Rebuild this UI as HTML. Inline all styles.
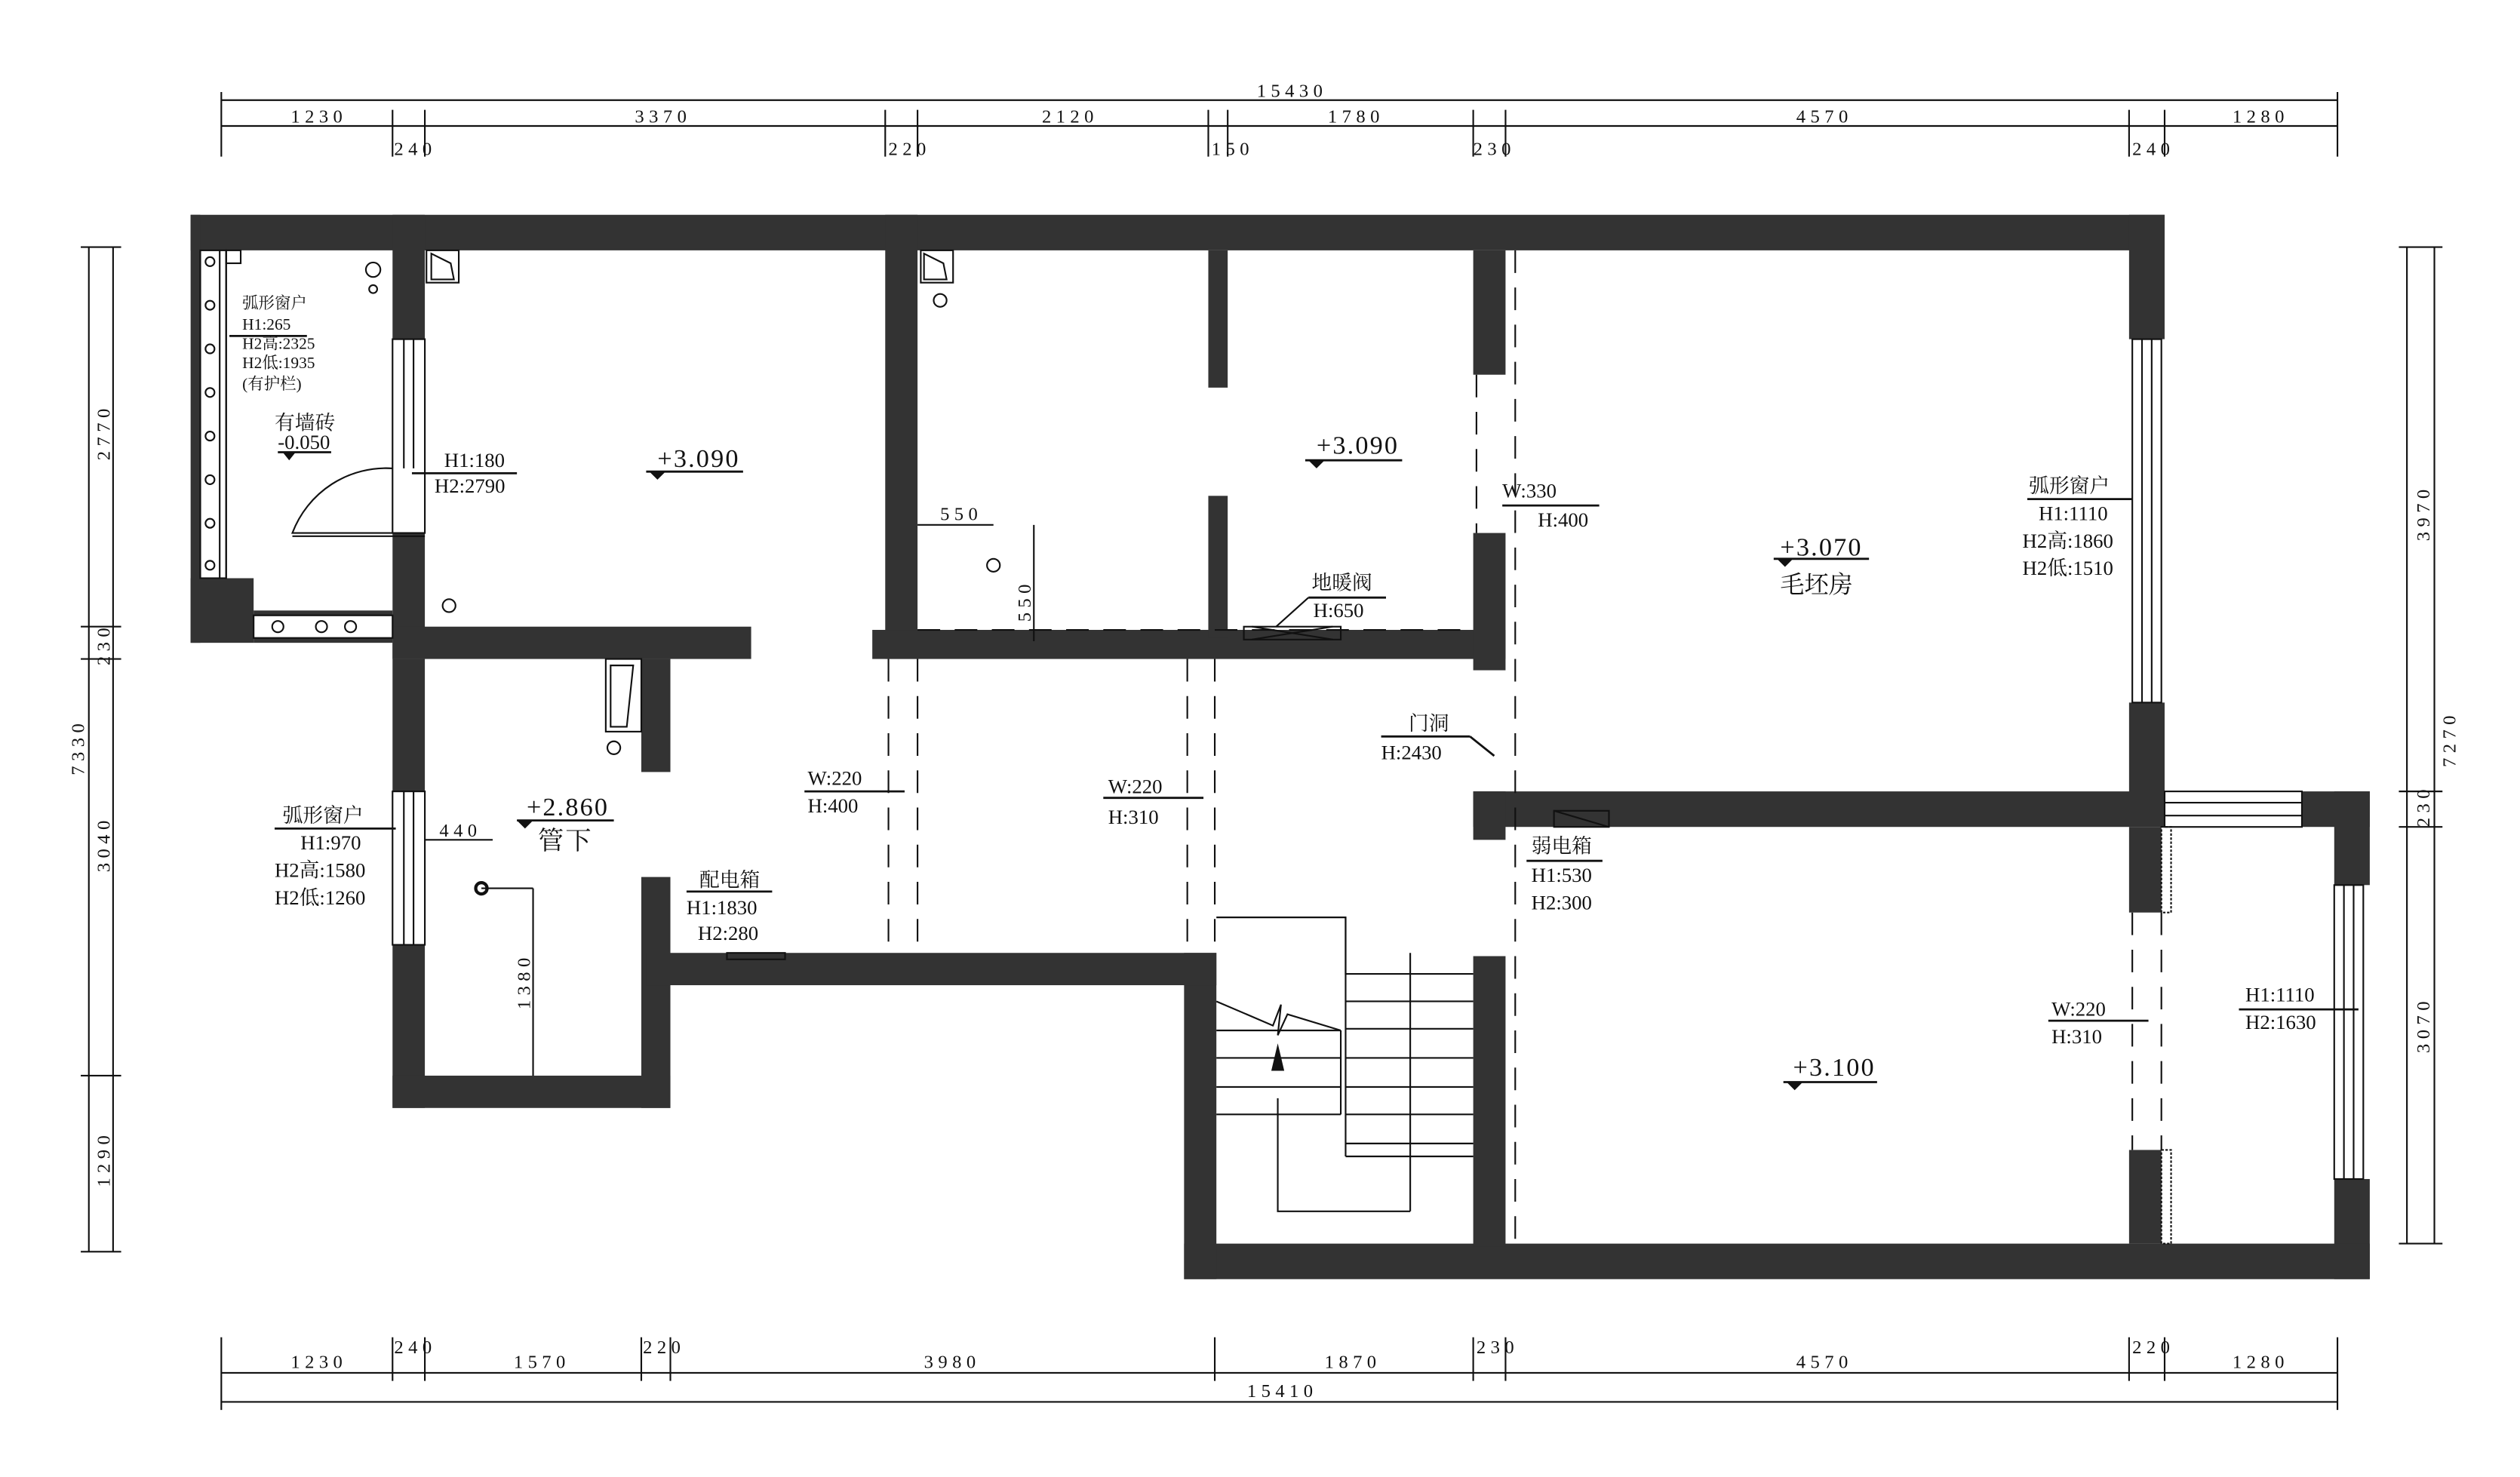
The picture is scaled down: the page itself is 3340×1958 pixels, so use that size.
<!DOCTYPE html>
<html><head><meta charset="utf-8"><style>
html,body{margin:0;padding:0;background:#fff;}
svg{display:block;}
text{font-family:"Liberation Serif","Noto Serif CJK SC","Noto Sans CJK SC",serif;fill:#111;}
.t{font-size:12.5px;}
.s{font-size:10px;}
.d{font-size:11.5px;letter-spacing:3px;}
.e{font-size:16px;letter-spacing:1px;}
</style></head><body>
<svg width="3340" height="1958" viewBox="0 0 1560 914.5" preserveAspectRatio="none" xmlns="http://www.w3.org/2000/svg">
<rect width="1560" height="914.5" fill="#fff"/>
<g fill="#333">
<rect x="118" y="133" width="1222" height="22"/>
<rect x="118" y="133" width="6" height="265"/>
<rect x="118" y="358" width="39" height="40"/>
<rect x="157" y="378" width="86" height="3"/>
<rect x="157" y="395" width="86" height="3"/>
<rect x="243" y="133" width="20" height="77"/>
<rect x="243" y="330" width="20" height="78"/>
<rect x="243" y="408" width="20" height="82"/>
<rect x="243" y="585" width="20" height="101"/>
<rect x="243" y="666" width="172" height="20"/>
<rect x="397" y="543" width="18" height="143"/>
<rect x="243" y="388" width="222" height="20"/>
<rect x="397" y="408" width="18" height="70"/>
<rect x="548" y="133" width="20" height="275"/>
<rect x="540" y="390" width="392" height="18"/>
<rect x="748" y="155" width="12" height="85"/>
<rect x="748" y="307" width="12" height="88"/>
<rect x="912" y="155" width="20" height="77"/>
<rect x="912" y="330" width="20" height="85"/>
<rect x="1318" y="133" width="22" height="77"/>
<rect x="1318" y="435" width="22" height="65"/>
<rect x="912" y="490" width="428" height="22"/>
<rect x="912" y="490" width="20" height="30"/>
<rect x="1425" y="490" width="42" height="22"/>
<rect x="1445" y="490" width="22" height="58"/>
<rect x="1445" y="730" width="22" height="62"/>
<rect x="1318" y="512" width="20" height="53"/>
<rect x="1318" y="712" width="20" height="58"/>
<rect x="733" y="770" width="734" height="22"/>
<rect x="912" y="592" width="20" height="180"/>
<rect x="733" y="590" width="20" height="202"/>
<rect x="400" y="590" width="353" height="20"/>
</g>
<g fill="none" stroke="#111" stroke-width="1">
<rect x="124" y="155" width="16" height="203"/>
<line x1="136" y1="155" x2="136" y2="358"/>
<line x1="140" y1="155" x2="140" y2="358"/>
<circle cx="130" cy="162" r="2.8"/><circle cx="130" cy="189" r="2.8"/><circle cx="130" cy="216" r="2.8"/><circle cx="130" cy="243" r="2.8"/><circle cx="130" cy="270" r="2.8"/><circle cx="130" cy="297" r="2.8"/><circle cx="130" cy="324" r="2.8"/><circle cx="130" cy="350" r="2.8"/>
<rect x="140" y="155" width="9" height="8"/>
<circle cx="231" cy="167" r="4.5"/><circle cx="231" cy="179" r="2.5"/>
<rect x="157" y="381" width="86" height="14"/>
<circle cx="172" cy="388" r="3.5"/><circle cx="199" cy="388" r="3.5"/><circle cx="217" cy="388" r="3.5"/>
<rect x="243" y="210" width="20" height="120"/><line x1="250" y1="210" x2="250" y2="290"/><line x1="256" y1="210" x2="256" y2="290"/>
<path d="M243 290 A62 62 0 0 0 181 330 L263 330"/><line x1="181" y1="332" x2="263" y2="332"/>
<rect x="243" y="490" width="20" height="95"/><line x1="250" y1="490" x2="250" y2="585"/><line x1="256" y1="490" x2="256" y2="585"/>
<rect x="1320" y="210" width="18" height="225"/><line x1="1326" y1="210" x2="1326" y2="435"/><line x1="1332" y1="210" x2="1332" y2="435"/>
<rect x="1340" y="490" width="85" height="22"/><line x1="1340" y1="497" x2="1425" y2="497"/><line x1="1340" y1="505" x2="1425" y2="505"/>
<rect x="1445" y="548" width="18" height="182"/><line x1="1451" y1="548" x2="1451" y2="730"/><line x1="1457" y1="548" x2="1457" y2="730"/>
<rect x="1338" y="512" width="6" height="53" stroke-dasharray="1.5 1"/>
<rect x="1338" y="712" width="6" height="58" stroke-dasharray="1.5 1"/>
<rect x="264" y="155" width="20" height="20"/><path d="M267 157 L279 163 L281 173 L267 173 Z"/>
<rect x="570" y="155" width="20" height="20"/><path d="M572 157 L584 163 L586 173 L572 173 Z"/>
<rect x="375" y="408" width="22" height="45"/><path d="M378 412 L392 412 L388 450 L378 450 Z"/>
<circle cx="278" cy="375" r="4"/><circle cx="582" cy="186" r="4"/><circle cx="615" cy="350" r="4"/><circle cx="380" cy="463" r="4"/>
<circle cx="298" cy="550" r="3.5" stroke-width="2"/>
<line x1="298" y1="550" x2="330" y2="550"/><line x1="330" y1="550" x2="330" y2="666"/>
<line x1="263" y1="520" x2="305" y2="520"/>
<line x1="568" y1="325" x2="615" y2="325"/><line x1="640" y1="325" x2="640" y2="397"/>
<rect x="450" y="590" width="36" height="4"/>
<rect x="962" y="502" width="34" height="10"/><line x1="962" y1="502" x2="996" y2="512"/>
<rect x="770" y="388" width="60" height="8"/><line x1="775" y1="388" x2="825" y2="396"/><line x1="775" y1="396" x2="825" y2="388"/>
<line x1="790" y1="388" x2="810" y2="370"/>
<polyline points="753,568 833,568 833,603 912,603"/>
<line x1="833" y1="568" x2="833" y2="716"/>
<line x1="873" y1="590" x2="873" y2="750"/>
<polyline points="791,680 791,750 873,750"/>
<line x1="833" y1="716" x2="912" y2="716"/>
<line x1="833" y1="620" x2="912" y2="620"/><line x1="833" y1="637" x2="912" y2="637"/><line x1="833" y1="655" x2="912" y2="655"/><line x1="833" y1="673" x2="912" y2="673"/><line x1="833" y1="690" x2="912" y2="690"/><line x1="833" y1="708" x2="912" y2="708"/>
<line x1="753" y1="638" x2="830" y2="638"/><line x1="753" y1="655" x2="830" y2="655"/><line x1="753" y1="673" x2="830" y2="673"/><line x1="753" y1="690" x2="830" y2="690"/>
<line x1="830" y1="638" x2="830" y2="690"/>
<polyline points="753,620 788,635 793,622 791,641 797,628 830,638"/>
<g stroke-dasharray="14 9">
<line x1="568" y1="390" x2="912" y2="390"/>
<line x1="550" y1="408" x2="550" y2="590"/><line x1="568" y1="408" x2="568" y2="590"/>
<line x1="735" y1="408" x2="735" y2="590"/><line x1="752" y1="408" x2="752" y2="590"/>
<line x1="914" y1="232" x2="914" y2="330"/><line x1="938" y1="155" x2="938" y2="770"/>
<line x1="1320" y1="565" x2="1320" y2="712"/><line x1="1338" y1="565" x2="1338" y2="712"/>
</g>
</g>
<polygon points="791,646 787,663 795,663" fill="#111"/>
<g stroke="#111" stroke-width="1.3" fill="none">
<line x1="142" y1="208" x2="190" y2="208"/>
<line x1="172" y1="280" x2="205" y2="280"/>
<line x1="255" y1="293" x2="320" y2="293"/>
<line x1="400" y1="292" x2="460" y2="292"/>
<line x1="808" y1="285" x2="868" y2="285"/>
<line x1="930" y1="313" x2="990" y2="313"/>
<line x1="1098" y1="346" x2="1157" y2="346"/>
<line x1="1255" y1="309" x2="1320" y2="309"/>
<line x1="170" y1="513" x2="245" y2="513"/>
<line x1="320" y1="508" x2="380" y2="508"/>
<line x1="498" y1="490" x2="560" y2="490"/>
<line x1="683" y1="494" x2="745" y2="494"/>
<line x1="855" y1="456" x2="910" y2="456"/><line x1="910" y1="456" x2="925" y2="468"/>
<line x1="425" y1="552" x2="478" y2="552"/>
<line x1="945" y1="533" x2="992" y2="533"/>
<line x1="1104" y1="670" x2="1162" y2="670"/>
<line x1="1268" y1="632" x2="1330" y2="632"/>
<line x1="1386" y1="625" x2="1460" y2="625"/>
<line x1="810" y1="370" x2="858" y2="370"/>
</g>
<g fill="#111">
<polygon points="175,280 183,280 179,285"/><polygon points="402,292 412,292 407,297"/><polygon points="810,285 820,285 815,290"/><polygon points="1100,346 1110,346 1105,351"/><polygon points="320,508 330,508 325,513"/><polygon points="1106,670 1116,670 1111,675"/>
</g>
<g class="s">
<text x="150" y="191">弧形窗户</text><text x="150" y="204">H1:265</text><text x="150" y="216">H2高:2325</text><text x="150" y="228">H2低:1935</text><text x="150" y="241">(有护栏)</text>
</g>
<g class="t">
<text x="170" y="266">有墙砖</text><text x="172" y="278">-0.050</text>
<text x="275" y="289">H1:180</text><text x="269" y="305">H2:2790</text>
<text x="930" y="308">W:330</text><text x="952" y="326">H:400</text>
<text x="1256" y="305">弧形窗户</text><text x="1262" y="322">H1:1110</text><text x="1252" y="339">H2高:1860</text><text x="1252" y="356">H2低:1510</text>
<text x="1102" y="367" style="font-size:15px">毛坯房</text>
<text x="175" y="509">弧形窗户</text><text x="186" y="526">H1:970</text><text x="170" y="543">H2高:1580</text><text x="170" y="560">H2低:1260</text>
<text x="500" y="486">W:220</text><text x="500" y="503">H:400</text>
<text x="686" y="491">W:220</text><text x="686" y="510">H:310</text>
<text x="872" y="452">门洞</text><text x="855" y="470">H:2430</text>
<text x="433" y="549">配电箱</text><text x="425" y="566">H1:1830</text><text x="432" y="582">H2:280</text>
<text x="948" y="528">弱电箱</text><text x="948" y="546">H1:530</text><text x="948" y="563">H2:300</text>
<text x="812" y="365">地暖阀</text><text x="813" y="382">H:650</text>
<text x="1270" y="629">W:220</text><text x="1270" y="646">H:310</text>
<text x="1390" y="620">H1:1110</text><text x="1390" y="637">H2:1630</text>
</g>
<g class="e">
<text x="407" y="289">+3.090</text><text x="815" y="281">+3.090</text><text x="1102" y="344">+3.070</text>
<text x="326" y="505">+2.860</text><text x="333" y="526">管下</text><text x="1110" y="666">+3.100</text>
</g>
<g class="d">
<text x="582" y="322">550</text>
<text x="272" y="518">440</text>
<text transform="translate(638,385) rotate(-90)">550</text>
<text transform="translate(328,625) rotate(-90)">1380</text>
</g>
<g stroke="#111" stroke-width="1" fill="none">
<line x1="137" y1="62" x2="1447" y2="62"/><line x1="137" y1="78" x2="1447" y2="78"/>
<line x1="137" y1="850" x2="1447" y2="850"/><line x1="137" y1="868" x2="1447" y2="868"/>
<line x1="55" y1="153" x2="55" y2="775"/><line x1="70" y1="153" x2="70" y2="775"/>
<line x1="1490" y1="153" x2="1490" y2="770"/><line x1="1507" y1="153" x2="1507" y2="770"/>
<path d="M137 57V97M243 68V97M263 68V97M548 68V97M568 68V97M748 68V97M760 68V97M912 68V97M932 68V97M1318 68V97M1340 68V97M1447 57V97"/>
<path d="M137 828V873M243 828V855M263 828V855M397 828V855M415 828V855M752 828V855M912 828V855M932 828V855M1318 828V855M1340 828V855M1447 828V873"/>
<path d="M50 153H75M50 388H75M50 408H75M50 666H75M50 775H75M1485 153H1512M1485 490H1512M1485 512H1512M1485 770H1512"/>
</g>
<g class="d">
<text x="778" y="60">15430</text>
<text x="180" y="76">1230</text><text x="393" y="76">3370</text><text x="645" y="76">2120</text><text x="822" y="76">1780</text><text x="1112" y="76">4570</text><text x="1382" y="76">1280</text>
<text x="244" y="96">240</text><text x="550" y="96">220</text><text x="750" y="96">150</text><text x="912" y="96">230</text><text x="1320" y="96">240</text>
<text x="180" y="847">1230</text><text x="318" y="847">1570</text><text x="572" y="847">3980</text><text x="820" y="847">1870</text><text x="1112" y="847">4570</text><text x="1382" y="847">1280</text>
<text x="244" y="838">240</text><text x="398" y="838">220</text><text x="914" y="838">230</text><text x="1320" y="838">220</text>
<text x="772" y="865">15410</text>
<text transform="translate(68,285) rotate(-90)">2770</text>
<text transform="translate(68,412) rotate(-90)">230</text>
<text transform="translate(68,540) rotate(-90)">3040</text>
<text transform="translate(68,735) rotate(-90)">1290</text>
<text transform="translate(52,480) rotate(-90)">7330</text>
<text transform="translate(1504,335) rotate(-90)">3970</text>
<text transform="translate(1504,512) rotate(-90)">230</text>
<text transform="translate(1504,652) rotate(-90)">3070</text>
<text transform="translate(1520,475) rotate(-90)">7270</text>
</g>
</svg>
</body></html>
